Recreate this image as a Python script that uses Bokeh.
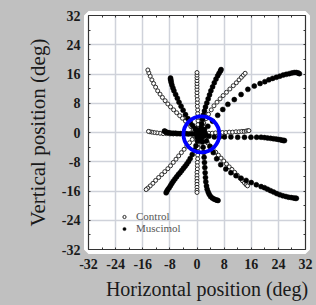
from bokeh.plotting import figure
from bokeh.models import (Range1d, FixedTicker, LinearAxis, Legend, LegendItem,
                          GlobalInlineStyleSheet)
from bokeh.embed import file_html
from bokeh.resources import INLINE

# ---------------- data ----------------
ticks = [-32, -24, -16, -8, 0, 8, 16, 24, 32]
tick_labels = ["-32", "-24", "-16", "-8", "0", "8", "16", "24", "32"]
minor_ticks = [-28, -20, -12, -4, 4, 12, 20, 28]

# Control (open circles), by saccade direction
ctrl_center_x = [0.5, 0.8, 1.5, -0.3, 0.2, 1.8, 2.0, -0.5, 1.0, 0.0, 2.4, -1.2]
ctrl_center_y = [0.3, -0.5, 0.8, 1.0, -0.9, -0.3, 1.5, -1.5, 2.2, -2.3, -1.6, 0.4]
ctrl_up_x = [0.4, 0.3, 0.3, 0.2, 0.2, 0.2, 0.1, 0.1, 0.1, 0.0, 0.0, 0.0, 0.0, 0.0, 0.0, 0.0, 0.0, 0.0]
ctrl_up_y = [1.2, 2.2, 3.2, 4.2, 5.2, 6.2, 7.2, 8.2, 9.1, 10.0, 10.9, 11.8, 12.6, 13.4, 14.2, 15.0, 15.7, 16.4]
ctrl_upleft_x = [-1.0, -1.8, -2.6, -3.4, -4.3, -5.1, -6.0, -6.9, -7.8, -8.6, -9.4, -10.2, -10.9, -11.6, -12.2, -12.8, -13.3, -13.8, -14.2, -14.5]
ctrl_upleft_y = [0.8, 1.6, 2.4, 3.1, 3.9, 4.6, 5.4, 6.2, 7.0, 7.8, 8.7, 9.6, 10.5, 11.4, 12.4, 13.4, 14.4, 15.4, 16.3, 17.1]
ctrl_left_x = [-1.0, -2.0, -3.0, -4.0, -5.0, -6.0, -7.0, -8.0, -9.0, -10.0, -10.9, -11.8, -12.6, -13.3, -13.9, -14.3]
ctrl_left_y = [-0.3, -0.3, -0.4, -0.4, -0.4, -0.4, -0.4, -0.4, -0.3, -0.3, -0.2, -0.1, 0.0, 0.1, 0.2, 0.3]
ctrl_upright_x = [1.4, 2.0, 2.7, 3.4, 4.2, 5.0, 5.9, 6.8, 7.7, 8.7, 9.7, 10.7, 11.6, 12.4, 13.1, 13.7, 14.2]
ctrl_upright_y = [1.5, 2.6, 3.8, 5.0, 6.2, 7.3, 8.3, 9.2, 10.1, 11.0, 11.9, 12.8, 13.6, 14.4, 15.1, 15.7, 16.2]
ctrl_right_x = [1.5, 2.5, 3.5, 4.5, 5.5, 6.5, 7.5, 8.5, 9.5, 10.5, 11.5, 12.4, 13.2, 13.9, 14.5, 15.0, 15.3]
ctrl_right_y = [-0.3, -0.3, -0.2, -0.2, -0.1, -0.1, 0.0, 0.0, 0.1, 0.1, 0.2, 0.2, 0.3, 0.3, 0.4, 0.5, 0.5]
ctrl_downright_x = [1.5, 2.3, 3.1, 3.9, 4.7, 5.5, 6.3, 7.1, 7.9, 8.7, 9.5, 10.3, 11.1, 11.9, 12.7, 13.4, 14.0, 14.5, 14.9]
ctrl_downright_y = [-1.0, -1.9, -2.8, -3.7, -4.6, -5.4, -6.2, -7.0, -7.8, -8.6, -9.4, -10.1, -10.9, -11.7, -12.5, -13.2, -13.8, -14.3, -14.6]
ctrl_down_x = [0.4, 0.3, 0.3, 0.3, 0.2, 0.2, 0.2, 0.1, 0.1, 0.1, 0.0, 0.0, 0.0, 0.0, 0.0, 0.0, 0.0, 0.0]
ctrl_down_y = [-1.2, -2.2, -3.2, -4.2, -5.2, -6.2, -7.2, -8.2, -9.1, -10.0, -10.9, -11.8, -12.6, -13.4, -14.2, -15.0, -15.8, -16.4]
ctrl_downleft_x = [-0.6, -1.4, -2.2, -3.0, -3.8, -4.6, -5.4, -6.2, -7.0, -7.8, -8.6, -9.5, -10.4, -11.3, -12.2, -13.0, -13.8, -14.5, -15.0]
ctrl_downleft_y = [-1.0, -1.9, -2.8, -3.7, -4.6, -5.5, -6.4, -7.3, -8.2, -9.1, -9.9, -10.7, -11.5, -12.3, -13.1, -13.9, -14.6, -15.2, -15.6]

# Muscimol (filled dots), by saccade direction
musc_center_x = [0.8, 1.2, 0.5, 1.6, 1.0, 0.3, 1.8, 0.9, 1.4, 2.2, 0.0, 1.1, 2.6, -0.4]
musc_center_y = [0.2, -0.3, -0.6, 0.4, 0.8, 0.0, -0.8, -1.0, -1.4, 0.1, -1.2, -2.0, -0.6, 0.9]
musc_upleft_x = [0.2, -0.5, -1.3, -2.0, -2.7, -3.4, -4.1, -4.7, -5.3, -5.8, -6.3, -6.8, -7.1, -7.4, -7.6, -7.7, -7.8, -7.8]
musc_upleft_y = [0.3, 1.0, 1.9, 2.8, 3.8, 4.9, 6.1, 7.2, 8.3, 9.4, 10.4, 11.4, 12.2, 13.0, 13.7, 14.2, 14.6, 14.9]
musc_left_x = [-0.5, -1.5, -2.5, -3.3, -4.1, -4.9, -5.6, -6.3, -7.0, -7.6, -8.2, -8.7, -9.1, -9.4, -9.6]
musc_left_y = [-0.4, -0.4, -0.4, -0.3, -0.3, -0.3, -0.3, -0.2, -0.2, -0.2, -0.1, 0.0, 0.1, 0.3, 0.4]
musc_up_x = [1.2, 1.4, 1.6, 1.9, 2.2, 2.5, 2.9, 3.3, 3.7, 4.1, 4.6, 5.1, 5.6, 6.1, 6.5, 6.9, 7.1]
musc_up_y = [1.3, 2.4, 3.6, 4.8, 5.9, 7.0, 8.1, 9.2, 10.3, 11.4, 12.5, 13.6, 14.6, 15.5, 16.2, 16.8, 17.2]
musc_upright_x = [2.2, 3.2, 4.6, 6.1, 7.6, 9.1, 11.0, 13.0, 15.0, 16.9, 18.6, 20.0, 21.2, 22.3, 23.4, 24.4, 25.4, 26.3, 27.2, 28.0, 28.7, 29.3, 29.8, 30.2]
musc_upright_y = [0.8, 1.7, 3.1, 4.7, 6.3, 7.7, 9.0, 10.4, 11.8, 12.7, 13.4, 13.9, 14.4, 14.8, 15.1, 15.4, 15.7, 15.9, 16.1, 16.3, 16.4, 16.4, 16.3, 16.1]
musc_right_x = [2.0, 3.5, 5.1, 6.6, 8.1, 10.0, 12.0, 14.0, 15.9, 17.6, 18.9, 19.9, 20.8, 21.7, 22.5, 23.3, 24.0, 24.6, 25.1, 25.5, 25.8]
musc_right_y = [-0.8, -1.0, -1.2, -1.2, -1.2, -1.2, -1.3, -1.3, -1.3, -1.3, -1.3, -1.4, -1.5, -1.6, -1.7, -1.8, -1.9, -2.0, -2.1, -2.2, -2.2]
musc_downright_x = [1.9, 2.8, 3.8, 4.8, 5.8, 7.0, 8.5, 10.0, 11.5, 13.0, 14.5, 16.0, 17.5, 18.9, 19.9, 20.8, 21.7, 22.6, 23.5, 24.4, 25.3, 26.2, 27.0, 27.8, 28.5, 29.0, 29.3]
musc_downright_y = [-1.0, -2.3, -3.8, -5.5, -7.2, -8.8, -10.0, -11.0, -11.8, -12.5, -13.1, -13.7, -14.3, -14.8, -15.1, -15.5, -15.9, -16.3, -16.7, -17.0, -17.3, -17.5, -17.7, -17.8, -17.9, -18.0, -18.0]
musc_down_x = [1.4, 1.6, 1.8, 2.0, 2.1, 2.2, 2.3, 2.4, 2.5, 2.6, 2.8, 3.0, 3.3, 3.6, 4.0, 4.5, 5.0, 5.5, 5.9, 6.2]
musc_down_y = [-1.2, -2.6, -4.0, -5.4, -6.8, -8.2, -9.6, -11.0, -12.3, -13.5, -14.6, -15.5, -16.3, -16.9, -17.5, -17.9, -18.2, -18.4, -18.5, -18.6]
musc_downleft_x = [0.6, 0.2, -0.3, -0.8, -1.4, -2.0, -2.5, -3.0, -3.5, -4.0, -4.5, -5.0, -5.5, -6.0, -6.5, -7.0, -7.4, -7.8, -8.2, -8.6, -8.9, -9.1]
musc_downleft_y = [-1.2, -2.4, -3.6, -4.8, -6.0, -7.1, -7.9, -8.6, -9.2, -9.8, -10.4, -11.0, -11.5, -12.1, -12.7, -13.3, -13.9, -14.5, -15.1, -15.6, -16.1, -16.5]

# highlighted central window
window_x = [1.3]
window_y = [-0.5]

ctrl_x = (ctrl_center_x + ctrl_up_x + ctrl_upleft_x + ctrl_left_x + ctrl_upright_x
          + ctrl_right_x + ctrl_downright_x + ctrl_down_x + ctrl_downleft_x)
ctrl_y = (ctrl_center_y + ctrl_up_y + ctrl_upleft_y + ctrl_left_y + ctrl_upright_y
          + ctrl_right_y + ctrl_downright_y + ctrl_down_y + ctrl_downleft_y)
musc_x = (musc_center_x + musc_upleft_x + musc_left_x + musc_up_x + musc_upright_x
          + musc_right_x + musc_downright_x + musc_down_x + musc_downleft_x)
musc_y = (musc_center_y + musc_upleft_y + musc_left_y + musc_up_y + musc_upright_y
          + musc_right_y + musc_downright_y + musc_down_y + musc_downleft_y)

# ---------------- figure ----------------
BG = "#c0c0c0"
SERIF = "Liberation Serif"

p = figure(width=316, height=305,
           x_range=Range1d(ticks[0], ticks[-1]), y_range=Range1d(ticks[0], ticks[-1]),
           output_backend="svg", toolbar_location=None,
           min_border_left=88, min_border_right=11, min_border_top=15, min_border_bottom=56)
p.background_fill_color = "white"
p.border_fill_color = BG
p.outline_line_color = "white"
p.outline_line_width = 9
p.stylesheets = [GlobalInlineStyleSheet(css="body { background: %s; }" % BG)]

bottom_axis = p.below[0]
left_axis = p.left[0]

ticker = FixedTicker(ticks=ticks, minor_ticks=minor_ticks)
edge_ticker = FixedTicker(ticks=[], minor_ticks=ticks + minor_ticks)
label_map = dict(zip(ticks, tick_labels))

for g in (p.xgrid[0], p.ygrid[0]):
    g.ticker = ticker
    g.grid_line_color = "#cfd2da"
    g.grid_line_width = 1.5

top_axis = LinearAxis(ticker=edge_ticker)
right_axis = LinearAxis(ticker=edge_ticker)
p.add_layout(top_axis, "above")
p.add_layout(right_axis, "right")

bottom_axis.ticker = ticker
left_axis.ticker = ticker

for ax in (bottom_axis, left_axis, top_axis, right_axis):
    ax.axis_line_color = "#333333"
    ax.axis_line_width = 1.2
    ax.major_tick_in = 2
    ax.major_tick_out = 0
    ax.minor_tick_in = 2
    ax.minor_tick_out = 0
    ax.major_tick_line_color = "#333333"
    ax.minor_tick_line_color = "#333333"

for ax in (top_axis, right_axis):
    ax.major_label_standoff = 0

for ax in (bottom_axis, left_axis):
    ax.major_label_overrides = label_map
    ax.major_label_text_font = SERIF
    ax.major_label_text_font_style = "bold"
    ax.major_label_text_font_size = "14px"
    ax.major_label_text_color = "#1a1a1a"
    ax.axis_label_text_font = SERIF
    ax.axis_label_text_font_style = "normal"
    ax.axis_label_text_color = "#1a1a1a"

bottom_axis.axis_label = "\u00a0" * 4 + "Horizontal position (deg)"
bottom_axis.axis_label_text_font_size = "20px"
bottom_axis.major_label_standoff = 9
bottom_axis.axis_label_standoff = 6
left_axis.axis_label = "Vertical position (deg)"
left_axis.axis_label_text_font_size = "21px"
left_axis.major_label_standoff = 8
left_axis.axis_label_standoff = 9

r_ctrl = p.scatter(ctrl_x, ctrl_y, marker="circle", size=4, fill_color="white",
                   line_color="#2a2a2a", line_width=1)
r_musc = p.scatter(musc_x, musc_y, marker="circle", size=5, fill_color="black",
                   line_color="black", line_width=0.5)
p.scatter(window_x, window_y, marker="circle", size=36, fill_color=None,
          line_color="#0000ff", line_width=3.8)

legend = Legend(items=[LegendItem(label="Control", renderers=[r_ctrl]),
                       LegendItem(label="Muscimol", renderers=[r_musc])],
                location=(32, 15), orientation="vertical")
legend.background_fill_alpha = 0
legend.border_line_color = None
legend.padding = 0
legend.margin = 0
legend.spacing = 0
legend.glyph_width = 8
legend.glyph_height = 11
legend.label_standoff = 8
legend.label_height = 11
legend.label_text_font = SERIF
legend.label_text_font_size = "11px"
legend.label_text_color = "#555555"
p.add_layout(legend, "center")

open("out.html", "w").write(file_html(p, INLINE))
